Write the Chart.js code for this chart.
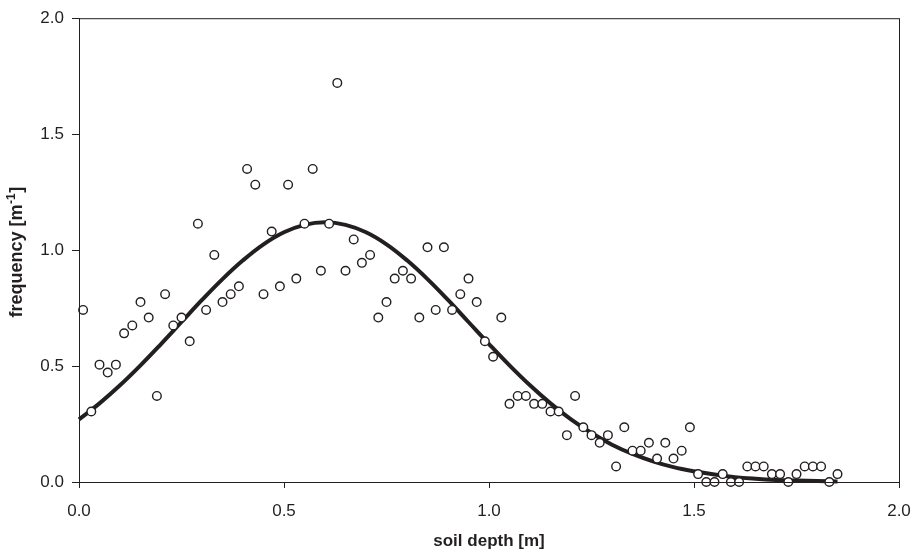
<!DOCTYPE html>
<html>
<head>
<meta charset="utf-8">
<script src="https://cdn.jsdelivr.net/npm/chart.js@4/dist/chart.umd.min.js"></script>
<style>
  html, body { margin: 0; padding: 0; background: #fff; }
  #wrap { width: 913px; height: 552px; }
</style>
</head>
<body>
<div id="wrap"><canvas id="depthChart" width="913" height="552"></canvas></div>
<script>
// measured points (soil depth [m] vs frequency [1/m])
const depth = [0.01, 0.03, 0.05, 0.07, 0.09, 0.11, 0.13, 0.15, 0.17, 0.19,
  0.21, 0.23, 0.25, 0.27, 0.29, 0.31, 0.33, 0.35, 0.37, 0.39,
  0.41, 0.43, 0.45, 0.47, 0.49, 0.51, 0.53, 0.55, 0.57, 0.59,
  0.61, 0.63, 0.65, 0.67, 0.69, 0.71, 0.73, 0.75, 0.77, 0.79,
  0.81, 0.83, 0.85, 0.87, 0.89, 0.91, 0.93, 0.95, 0.97, 0.99,
  1.01, 1.03, 1.05, 1.07, 1.09, 1.11, 1.13, 1.15, 1.17, 1.19,
  1.21, 1.23, 1.25, 1.27, 1.29, 1.31, 1.33, 1.35, 1.37, 1.39,
  1.41, 1.43, 1.45, 1.47, 1.49, 1.51, 1.53, 1.55, 1.57, 1.59,
  1.61, 1.63, 1.65, 1.67, 1.69, 1.71, 1.73, 1.75, 1.77, 1.79,
  1.81, 1.83, 1.85];
const frequency = [0.742, 0.304, 0.506, 0.472, 0.506, 0.641, 0.675, 0.776, 0.709, 0.371,
  0.810, 0.675, 0.709, 0.607, 1.114, 0.742, 0.979, 0.776, 0.810, 0.844,
  1.350, 1.282, 0.810, 1.080, 0.844, 1.282, 0.877, 1.114, 1.350, 0.911,
  1.114, 1.721, 0.911, 1.046, 0.945, 0.979, 0.709, 0.776, 0.877, 0.911,
  0.877, 0.709, 1.012, 0.742, 1.012, 0.742, 0.810, 0.877, 0.776, 0.607,
  0.540, 0.709, 0.337, 0.371, 0.371, 0.337, 0.337, 0.304, 0.304, 0.202,
  0.371, 0.236, 0.202, 0.169, 0.202, 0.067, 0.236, 0.135, 0.135, 0.169,
  0.101, 0.169, 0.101, 0.135, 0.236, 0.034, 0, 0, 0.034, 0,
  0, 0.067, 0.067, 0.067, 0.034, 0.034, 0, 0.034, 0.067, 0.067,
  0.067, 0, 0.034];

// fitted curve
const curveDepth = [0, 0.05, 0.10, 0.15, 0.20, 0.25, 0.30, 0.35, 0.40, 0.45,
  0.50, 0.55, 0.60, 0.65, 0.70, 0.75, 0.80, 0.85, 0.90, 0.95,
  1.00, 1.05, 1.10, 1.15, 1.20, 1.25, 1.30, 1.35, 1.40, 1.45,
  1.50, 1.55, 1.60, 1.65, 1.70, 1.75, 1.80, 1.85];
const curveFreq = [0.270, 0.339, 0.417, 0.503, 0.595, 0.690, 0.785, 0.875, 0.956, 1.025,
  1.077, 1.109, 1.120, 1.109, 1.077, 1.025, 0.956, 0.875, 0.785, 0.690,
  0.595, 0.503, 0.417, 0.339, 0.270, 0.211, 0.161, 0.121, 0.089, 0.064,
  0.046, 0.032, 0.021, 0.014, 0.009, 0.006, 0.004, 0.002];

const xTicks = [0, 0.5, 1.0, 1.5, 2.0];
const yTicks = [0, 0.5, 1.0, 1.5, 2.0];

const fontFamily = '"Liberation Sans", Arial, sans-serif';
const ink = '#231f20';

// box around the plot area
const frameBox = {
  id: 'frameBox',
  afterDraw(chart) {
    const a = chart.chartArea;
    const ctx = chart.ctx;
    ctx.save();
    ctx.strokeStyle = ink;
    ctx.lineWidth = 1;
    ctx.strokeRect(a.left + 0.5, a.top + 0.5, a.right - a.left, a.bottom - a.top);
    ctx.restore();
  }
};

// y axis title with a real superscript: frequency [m-1]
const yTitle = {
  id: 'yTitle',
  afterDraw(chart) {
    const a = chart.chartArea;
    const ctx = chart.ctx;
    const main = 'bold 18px ' + fontFamily;
    const sup = 'bold 12px ' + fontFamily;
    ctx.save();
    ctx.font = main;
    const w1 = ctx.measureText('frequency [m').width;
    const w3 = ctx.measureText(']').width;
    ctx.font = sup;
    const w2 = ctx.measureText('-1').width + 1;
    const total = w1 + w2 + w3;
    ctx.translate(22, (a.top + a.bottom) / 2 + 2);
    ctx.rotate(-Math.PI / 2);
    ctx.fillStyle = ink;
    ctx.textBaseline = 'alphabetic';
    ctx.textAlign = 'left';
    let x = -total / 2;
    ctx.font = main;
    ctx.fillText('frequency [m', x, 0);
    x += w1;
    ctx.font = sup;
    ctx.fillText('-1', x + 0.5, -7);
    x += w2;
    ctx.font = main;
    ctx.fillText(']', x, 0);
    ctx.restore();
  }
};

const ctx = document.getElementById('depthChart').getContext('2d');
new Chart(ctx, {
  type: 'scatter',
  data: {
    datasets: [{
      label: 'measured',
      data: depth.map((d, i) => ({ x: d, y: frequency[i] })),
      pointStyle: 'circle',
      pointRadius: 4.3,
      pointBorderWidth: 1.4,
      pointBackgroundColor: '#fff',
      pointBorderColor: ink,
      showLine: false,
      clip: false
    }, {
      type: 'line',
      label: 'fit',
      data: curveDepth.map((d, i) => ({ x: d, y: curveFreq[i] })),
      borderColor: ink,
      borderWidth: 4,
      pointRadius: 0,
      tension: 0.4,
      fill: false,
      clip: false
    }]
  },
  options: {
    responsive: false,
    animation: false,
    layout: { padding: { left: 0, top: 15, right: 14, bottom: 0 } },
    plugins: {
      legend: { display: false },
      tooltip: { enabled: false }
    },
    scales: {
      x: {
        type: 'linear',
        min: 0,
        max: 2,
        afterFit: (s) => { s.height = 70; s.paddingLeft = 0; s.paddingRight = 0; },
        afterBuildTicks: (s) => { s.ticks = xTicks.map(v => ({ value: v })); },
        grid: { drawOnChartArea: false, tickLength: 6, tickColor: ink, tickWidth: 1 },
        border: { color: ink, width: 1 },
        ticks: {
          color: ink,
          padding: 13,
          maxRotation: 0,
          font: { family: fontFamily, size: 17 },
          callback: (v) => Number(v).toFixed(1)
        },
        title: {
          display: true,
          text: 'soil depth [m]',
          color: ink,
          padding: { top: 0, bottom: 0 },
          font: { family: fontFamily, size: 17, weight: 'bold' }
        }
      },
      y: {
        type: 'linear',
        min: 0,
        max: 2,
        afterFit: (s) => { s.width = 79; },
        afterBuildTicks: (s) => { s.ticks = yTicks.map(v => ({ value: v })); },
        grid: { drawOnChartArea: false, tickLength: 7, tickColor: ink, tickWidth: 1 },
        border: { color: ink, width: 1 },
        ticks: {
          color: ink,
          padding: 8,
          font: { family: fontFamily, size: 17 },
          callback: (v) => Number(v).toFixed(1)
        },
        title: { display: false }
      }
    }
  },
  plugins: [frameBox, yTitle]
});
</script>
</body>
</html>
